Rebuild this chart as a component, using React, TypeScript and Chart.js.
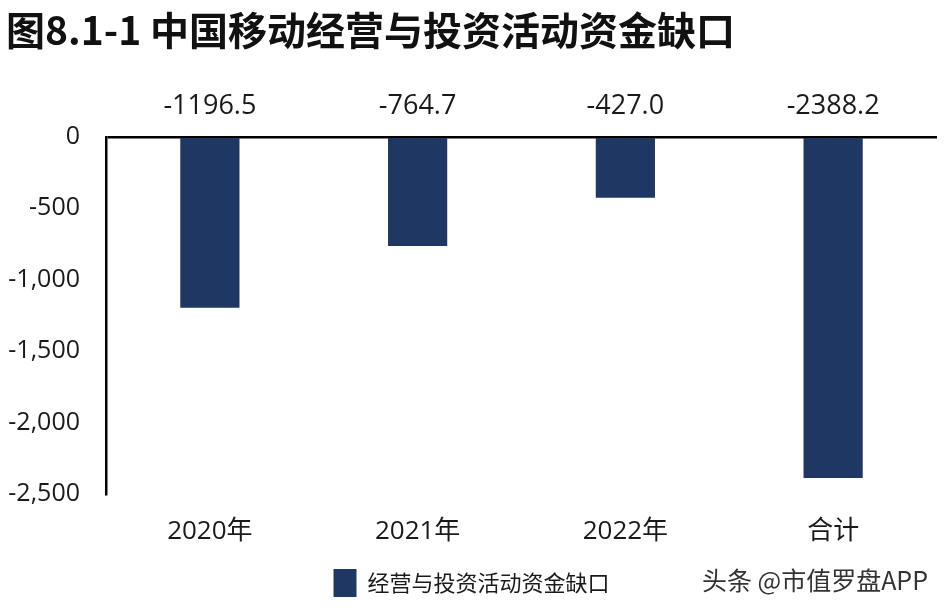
import { useEffect, useRef } from "react";
import { Chart, registerables, Plugin } from "chart.js";

Chart.register(...registerables);

const titleText = "图8.1-1 中国移动经营与投资活动资金缺口";
const seriesName = "经营与投资活动资金缺口";
const categories = ["2020年", "2021年", "2022年", "合计"];
const gapValues = [-1196.5, -764.7, -427.0, -2388.2];
const watermark = "头条 @市值罗盘APP";

const BAR_COLOR = "#1F3763";
const TEXT_COLOR = "#1a1a1a";
const FONT = "'Open Sans', 'Noto Sans CJK SC', sans-serif";

// values printed above the zero line
const topLabels: Plugin<"bar"> = {
  id: "topLabels",
  afterDatasetsDraw(chart) {
    const { ctx, chartArea } = chart;
    const meta = chart.getDatasetMeta(0);
    ctx.save();
    ctx.font = `27px ${FONT}`;
    ctx.fillStyle = TEXT_COLOR;
    ctx.textAlign = "center";
    ctx.textBaseline = "middle";
    meta.data.forEach((bar, i) => {
      ctx.fillText(gapValues[i].toFixed(1), bar.x, chartArea.top - 30);
    });
    ctx.restore();
  },
};

const watermarkPlugin: Plugin<"bar"> = {
  id: "watermark",
  afterDraw(chart) {
    const { ctx, width } = chart;
    ctx.save();
    ctx.font = `25px 'Noto Sans CJK SC', sans-serif`;
    ctx.fillStyle = "#333";
    ctx.textAlign = "right";
    ctx.textBaseline = "middle";
    ctx.fillText(watermark, width - 20, 580);
    ctx.restore();
  },
};

const App = () => {
  const canvasRef = useRef<HTMLCanvasElement>(null);
  const chartRef = useRef<Chart | null>(null);

  useEffect(() => {
    document.body.style.margin = "0";
    if (!canvasRef.current) return;
    if (chartRef.current) chartRef.current.destroy();

    chartRef.current = new Chart(canvasRef.current, {
      type: "bar",
      data: {
        labels: categories,
        datasets: [
          {
            label: seriesName,
            data: gapValues,
            backgroundColor: BAR_COLOR,
            barPercentage: 0.285,
            categoryPercentage: 1,
          },
        ],
      },
      options: {
        animation: false,
        responsive: true,
        maintainAspectRatio: false,
        layout: { padding: { left: 6, right: 11, top: 0, bottom: 3 } },
        scales: {
          x: {
            grid: { display: false, drawTicks: false },
            border: { display: false },
            ticks: {
              color: TEXT_COLOR,
              font: { size: 26, family: FONT },
              padding: 22,
            },
            afterFit: (s) => {
              s.height = 52;
            },
          },
          y: {
            min: -2500,
            max: 0,
            ticks: {
              stepSize: 500,
              color: TEXT_COLOR,
              font: { size: 25, family: FONT },
              padding: 26,
            },
            grid: {
              drawTicks: false,
              lineWidth: 2.5,
              color: (c) => (c.tick && c.tick.value === 0 ? "#000" : "transparent"),
            },
            border: { display: true, color: "#000", width: 2.5 },
            afterFit: (s) => {
              s.width = 100;
            },
          },
        },
        plugins: {
          title: {
            display: true,
            text: titleText,
            align: "start",
            color: "#111",
            font: { size: 39, weight: "bold", family: "'Noto Sans CJK SC', sans-serif" },
            padding: { top: 7, bottom: 83 },
          },
          legend: {
            position: "bottom",
            labels: {
              color: TEXT_COLOR,
              boxWidth: 23,
              boxHeight: 28,
              font: { size: 22, family: "'Noto Sans CJK SC', sans-serif" },
              padding: 23,
            },
          },
          tooltip: { enabled: false },
        },
      },
      plugins: [topLabels, watermarkPlugin],
    });

    return () => {
      if (chartRef.current) {
        chartRef.current.destroy();
        chartRef.current = null;
      }
    };
  }, []);

  return (
    <div style={{ width: 948, height: 610, position: "relative", background: "#fff" }}>
      <canvas ref={canvasRef}></canvas>
    </div>
  );
};

export default App;
